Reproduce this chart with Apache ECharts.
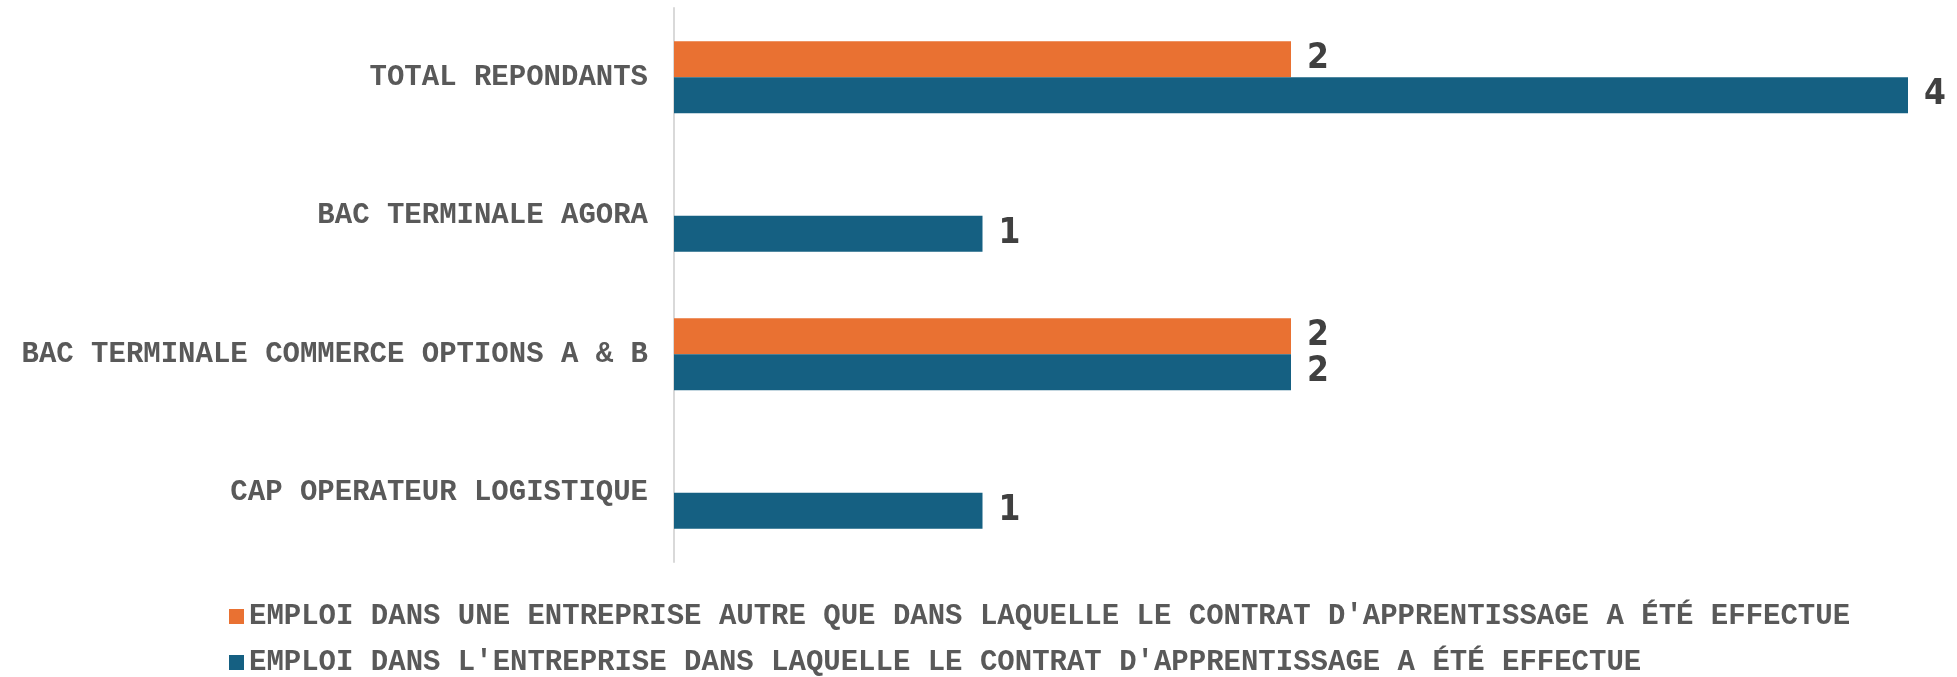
<!DOCTYPE html>
<html>
<head>
<meta charset="utf-8">
<script src="https://cdn.jsdelivr.net/npm/echarts@6/dist/echarts.min.js"></script>
<style>
  html, body { margin: 0; padding: 0; background: #fff; }
</style>
</head>
<body>
<div id="main" style="width: 1957px;height:677px;"></div>
<script>
// categories from bottom to top (category axis runs upward)
var categories = ["CAP OPERATEUR LOGISTIQUE", "BAC TERMINALE COMMERCE OPTIONS A & B", "BAC TERMINALE AGORA", "TOTAL REPONDANTS"];
var nameOther = "EMPLOI DANS UNE ENTREPRISE AUTRE QUE DANS LAQUELLE LE CONTRAT D'APPRENTISSAGE A ÉTÉ EFFECTUE";
var nameSame = "EMPLOI DANS L'ENTREPRISE DANS LAQUELLE LE CONTRAT D'APPRENTISSAGE A ÉTÉ EFFECTUE";
var valuesOther = [null, 2, null, 2];
var valuesSame = [1, 2, 1, 4];

var myChart = echarts.init(document.getElementById("main"));

var labelStyle = {
  show: true,
  position: "right",
  distance: 16,
  color: "#404040",
  fontFamily: "'Liberation Sans Narrow', 'DejaVu Sans Condensed', sans-serif",
  fontWeight: "bold",
  fontSize: 35
};

var option = {
  animation: false,
  grid: {
    left: 674,
    right: 49,
    top: 8,
    bottom: 115
  },
  legend: {
    orient: "vertical",
    left: 229,
    bottom: 0,
    padding: 0,
    itemGap: 17,
    itemWidth: 15,
    itemHeight: 15,
    icon: "rect",
    data: [nameOther, nameSame],
    textStyle: {
      fontFamily: "'Liberation Mono', 'Courier New', monospace",
      fontWeight: "bold",
      fontSize: 29,
      color: "#595959"
    }
  },
  xAxis: {
    type: "value",
    min: 0,
    max: 4,
    show: false,
    splitLine: { show: false }
  },
  yAxis: {
    type: "category",
    data: categories,
    axisTick: { show: false },
    axisLine: { show: true, lineStyle: { color: "#d9d9d9", width: 2 } },
    axisLabel: {
      margin: 26,
      fontFamily: "'Liberation Mono', 'Courier New', monospace",
      fontWeight: "bold",
      fontSize: 29,
      color: "#595959"
    }
  },
  series: [
    {
      name: nameOther,
      type: "bar",
      data: valuesOther,
      barGap: "0%",
      barCategoryGap: "48%",
      itemStyle: { color: "#E97132" },
      label: labelStyle
    },
    {
      name: nameSame,
      type: "bar",
      data: valuesSame,
      barGap: "0%",
      barCategoryGap: "48%",
      itemStyle: { color: "#156082" },
      label: labelStyle
    }
  ]
};

myChart.setOption(option);
</script>
</body>
</html>
